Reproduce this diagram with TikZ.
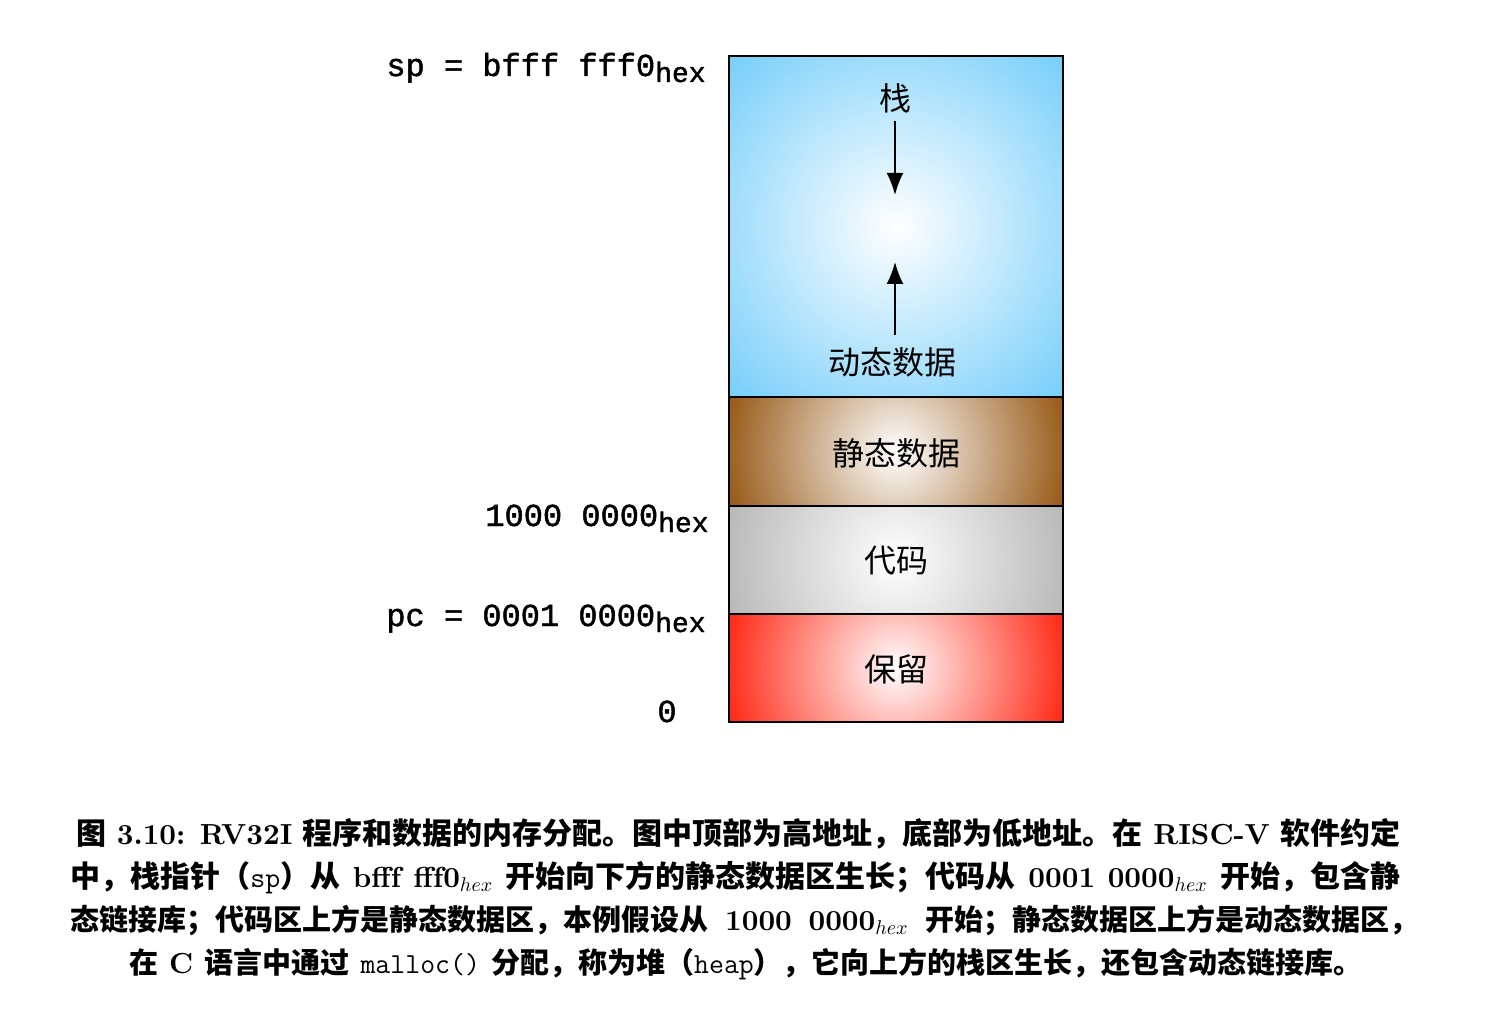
\documentclass[tikz,border=0pt]{standalone}
\usepackage{fontspec}
\usetikzlibrary{arrows.meta}
\newfontfamily\cjk{Noto Sans CJK SC}
\newfontfamily\cour{Liberation Mono}[FakeBold=1.5]
\newfontface\lmbx{lmroman10-bold.otf}
\definecolor{blueO}{RGB}{118,206,250}
\definecolor{brownO}{RGB}{150,88,20}
\definecolor{grayO}{RGB}{184,184,184}
\definecolor{redO}{RGB}{255,38,18}
\newcommand\Cb[1]{{\cjk\bfseries\fontsize{15}{15}\selectfont #1}}
\newcommand\Cs[1]{{\cjk\bfseries\fontsize{14.5}{14.5}\selectfont #1}}
\newcommand\Lb[1]{{\lmbx #1}}
\newcommand\ctt[1]{{\mdseries\ttfamily #1}}
\newcommand\hx{\raisebox{-3pt}{\fontsize{14}{14}\selectfont hex}}
\tikzset{
  region/.style={draw=black, line width=1.2pt, rectangle, minimum width=167pt, inner sep=0pt},
  grad/.style 2 args={path picture={\shade[inner color=white, outer color=#1] (path picture bounding box.center) circle (#2);}},
  lbl/.style={font=\cjk\fontsize{16}{16}\selectfont, inner sep=0pt},
  addr/.style={font=\cour\fontsize{16}{16}\selectfont, inner sep=0pt, anchor=base east},
  captxt/.style={font=\fontsize{14.5}{14.5}\selectfont\lmbx, inner sep=0pt},
  arr/.style={line width=1pt, -{Latex[length=11pt,width=8.5pt]}}
}
\begin{document}
\begin{tikzpicture}[x=0.5pt,y=-0.5pt]
\useasboundingbox (0,0) rectangle (1488,1010);
% regions
\node[region, minimum height=170.5pt, grad={blueO}{119.5pt}] (dyn) at (896,226.5) {};
\node[region, minimum height=54.5pt, grad={brownO}{88pt}] (stat) at (896,451.5) {};
\node[region, minimum height=54pt, grad={grayO}{88pt}] (code) at (896,560) {};
\node[region, minimum height=54pt, grad={redO}{88pt}] (resv) at (896,668) {};
% labels inside
\node[lbl] (stack) at (895,98) {栈};
\node[lbl] (heap) at (892,362) {动态数据};
\node[lbl] (statl) at (896,453) {静态数据};
\node[lbl] (codel) at (896,561) {代码};
\node[lbl] (resvl) at (896,669) {保留};
% arrows
\coordinate (d1) at (895,121);
\coordinate (d2) at (895,195);
\coordinate (u1) at (895,335);
\coordinate (u2) at (895,262);
\draw[arr] (d1) -- (d2);
\draw[arr] (u1) -- (u2);
% address labels
\node[addr] (sp) at (706,76) {sp = bfff fff0\hx};
\node[addr] (a1) at (709,526) {1000 0000\hx};
\node[addr] (pc) at (706,626) {pc = 0001 0000\hx};
\node[addr, anchor=base] (zero) at (667,722) {0};
% caption
\node[captxt, anchor=base west] (c1) at (76,844) {\makebox[662pt][s]{\Cb{图} \Lb{3.10: RV32I} \Cb{程序和数据的内存分配。图中顶部为高地址，底部为低地址。在} \Lb{RISC-V} \Cb{软件约定}}};
\node[captxt, anchor=base west] (c2) at (70,887) {\makebox[665pt][s]{\Cb{中，栈指针（}\ctt{sp}\Cb{）从} \Lb{bfff fff0}$_{hex}$ \Cb{开始向下方的静态数据区生长；代码从} \Lb{0001 0000}$_{hex}$ \Cb{开始，包含静}}};
\node[captxt, anchor=base west] (c3) at (70,930) {\makebox[674pt][s]{\Cs{态链接库；代码区上方是静态数据区，本例假设从} \Lb{1000 0000}$_{hex}$ \Cs{开始；静态数据区上方是动态数据区，}}};
\node[captxt, anchor=base] (c4) at (746,973) {\Cs{在} \Lb{C} \Cs{语言中通过} \ctt{malloc()} \Cs{分配，称为堆（}\ctt{heap}\Cs{），它向上方的栈区生长，还包含动态链接库。}};
\end{tikzpicture}
\end{document}
